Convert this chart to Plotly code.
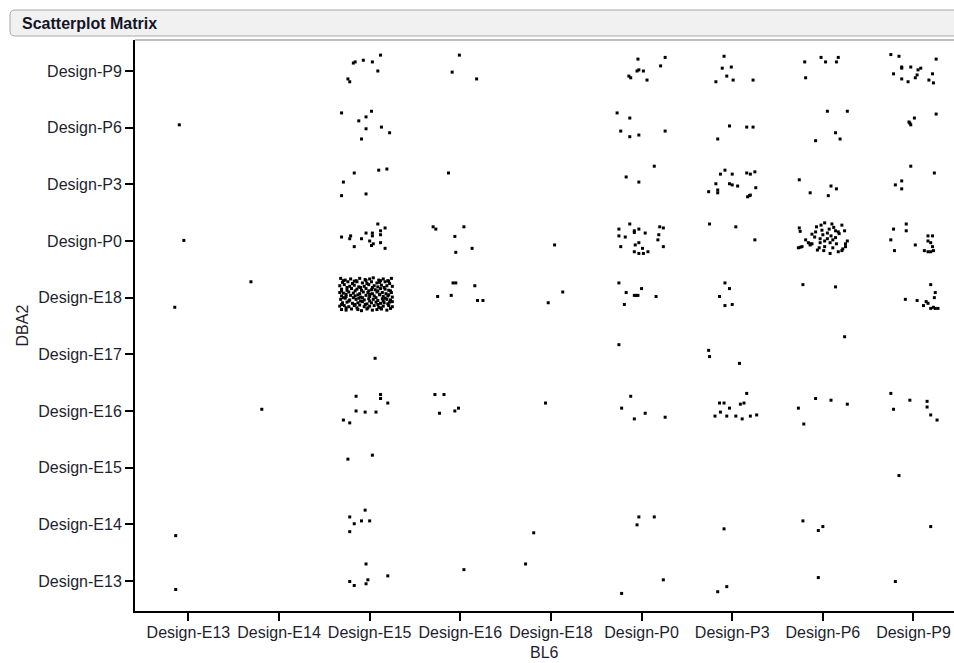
import plotly.graph_objects as go

# ---------------- data ----------------
bl6_categories = ["Design-E13", "Design-E14", "Design-E15", "Design-E16", "Design-E18",
                  "Design-P0", "Design-P3", "Design-P6", "Design-P9"]
dba2_categories = ["Design-E13", "Design-E14", "Design-E15", "Design-E16", "Design-E17",
                   "Design-E18", "Design-P0", "Design-P3", "Design-P6", "Design-P9"]

# each point: (BL6 category, jitter x, jitter y) – jitter in category units
pts_P9 = [
    ("Design-E15", 0.12, 0.28), ("Design-E15", -0.07, 0.19), ("Design-E15", -0.16, 0.16), ("Design-E15", -0.18, 0.14),
    ("Design-E15", 0.03, 0.16), ("Design-E15", 0.09, 0.00), ("Design-E15", -0.24, -0.14), ("Design-E15", -0.22, -0.19),
    ("Design-E16", -0.01, 0.28), ("Design-E16", -0.09, -0.02), ("Design-E16", 0.18, -0.14),
    ("Design-P0", -0.04, 0.21), ("Design-P0", 0.26, 0.24), ("Design-P0", 0.21, 0.09), ("Design-P0", -0.05, 0.00),
    ("Design-P0", -0.03, 0.02), ("Design-P0", 0.02, 0.00), ("Design-P0", -0.14, -0.09), ("Design-P0", -0.12, -0.12),
    ("Design-P0", 0.06, -0.16),
    ("Design-P3", -0.09, 0.26), ("Design-P3", -0.11, 0.05), ("Design-P3", -0.01, 0.07), ("Design-P3", -0.06, -0.09),
    ("Design-P3", -0.18, -0.19), ("Design-P3", 0.01, -0.16), ("Design-P3", 0.23, -0.16),
    ("Design-P6", -0.20, 0.16), ("Design-P6", -0.02, 0.24), ("Design-P6", 0.03, 0.16), ("Design-P6", 0.17, 0.24),
    ("Design-P6", 0.15, 0.16), ("Design-P6", -0.19, -0.12),
    ("Design-P9", -0.25, 0.29), ("Design-P9", -0.16, 0.26), ("Design-P9", 0.25, 0.21), ("Design-P9", -0.13, 0.07),
    ("Design-P9", -0.13, 0.05), ("Design-P9", -0.03, 0.07), ("Design-P9", 0.05, 0.02), ("Design-P9", 0.08, 0.05),
    ("Design-P9", -0.22, -0.05), ("Design-P9", 0.04, -0.07), ("Design-P9", 0.02, -0.12), ("Design-P9", 0.21, -0.05),
    ("Design-P9", -0.13, -0.14), ("Design-P9", -0.06, -0.19), ("Design-P9", 0.17, -0.16), ("Design-P9", 0.22, -0.21),
]
pts_P6 = [
    ("Design-E13", -0.10, 0.05),
    ("Design-E15", -0.31, 0.26), ("Design-E15", 0.02, 0.29), ("Design-E15", -0.12, 0.12), ("Design-E15", -0.04, 0.19),
    ("Design-E15", -0.04, -0.02), ("Design-E15", 0.13, 0.01), ("Design-E15", 0.22, -0.09), ("Design-E15", -0.09, -0.20),
    ("Design-P0", -0.27, 0.26), ("Design-P0", -0.13, 0.17), ("Design-P0", -0.23, -0.06), ("Design-P0", -0.13, -0.16),
    ("Design-P0", -0.03, -0.13), ("Design-P0", 0.26, -0.06),
    ("Design-P3", -0.03, 0.03), ("Design-P3", 0.16, 0.01), ("Design-P3", 0.23, 0.01), ("Design-P3", -0.16, -0.20),
    ("Design-P6", 0.05, 0.29), ("Design-P6", 0.27, 0.29), ("Design-P6", 0.14, -0.09), ("Design-P6", 0.19, -0.20),
    ("Design-P6", -0.08, -0.23),
    ("Design-P9", 0.25, 0.24), ("Design-P9", 0.01, 0.17), ("Design-P9", -0.05, 0.10), ("Design-P9", -0.04, 0.08),
    ("Design-P9", -0.03, 0.05),
]
pts_P3 = [
    ("Design-E15", -0.17, 0.20), ("Design-E15", 0.10, 0.25), ("Design-E15", 0.19, 0.27), ("Design-E15", -0.29, 0.04),
    ("Design-E15", -0.31, -0.20), ("Design-E15", -0.04, -0.17),
    ("Design-E16", -0.13, 0.20),
    ("Design-P0", 0.14, 0.32), ("Design-P0", -0.17, 0.13), ("Design-P0", -0.03, 0.04),
    ("Design-P3", -0.08, 0.25), ("Design-P3", -0.13, 0.18), ("Design-P3", 0.00, 0.18), ("Design-P3", 0.16, 0.20),
    ("Design-P3", 0.20, 0.18), ("Design-P3", 0.25, 0.22), ("Design-P3", -0.18, 0.01), ("Design-P3", -0.03, 0.01),
    ("Design-P3", 0.00, -0.01), ("Design-P3", 0.06, -0.03), ("Design-P3", -0.26, -0.13), ("Design-P3", -0.16, -0.10),
    ("Design-P3", -0.16, -0.15), ("Design-P3", 0.26, -0.06), ("Design-P3", 0.17, -0.22), ("Design-P3", 0.19, -0.20),
    ("Design-P3", 0.20, -0.19),
    ("Design-P6", -0.26, 0.08), ("Design-P6", -0.14, -0.15), ("Design-P6", 0.09, -0.03), ("Design-P6", 0.15, -0.08),
    ("Design-P6", 0.06, -0.20),
    ("Design-P9", -0.03, 0.32), ("Design-P9", 0.23, 0.20), ("Design-P9", -0.13, 0.06), ("Design-P9", -0.20, -0.01),
    ("Design-P9", -0.13, -0.08),
]
pts_P0 = [
    ("Design-E13", -0.05, 0.01),
    ("Design-E15", 0.09, 0.30), ("Design-E15", 0.17, 0.23), ("Design-E15", 0.12, 0.18), ("Design-E15", -0.04, 0.14),
    ("Design-E15", 0.03, 0.14), ("Design-E15", 0.03, 0.09), ("Design-E15", 0.12, 0.11), ("Design-E15", -0.31, 0.07),
    ("Design-E15", -0.21, 0.09), ("Design-E15", -0.22, 0.04), ("Design-E15", -0.09, 0.04), ("Design-E15", 0.00, 0.00),
    ("Design-E15", 0.04, -0.05), ("Design-E15", 0.02, -0.08), ("Design-E15", 0.12, -0.03), ("Design-E15", -0.17, -0.10),
    ("Design-E15", 0.17, -0.13),
    ("Design-E16", -0.30, 0.25), ("Design-E16", -0.27, 0.21), ("Design-E16", 0.04, 0.25), ("Design-E16", -0.06, 0.08),
    ("Design-E16", -0.05, -0.20), ("Design-E16", 0.13, -0.13),
    ("Design-E18", 0.04, -0.07),
    ("Design-P0", -0.13, 0.30), ("Design-P0", -0.25, 0.21), ("Design-P0", -0.08, 0.18), ("Design-P0", -0.08, 0.15),
    ("Design-P0", -0.03, 0.21), ("Design-P0", 0.04, 0.14), ("Design-P0", 0.20, 0.25), ("Design-P0", 0.24, 0.23),
    ("Design-P0", -0.25, 0.09), ("Design-P0", -0.18, 0.07), ("Design-P0", 0.19, 0.11), ("Design-P0", 0.18, 0.02),
    ("Design-P0", -0.03, -0.03), ("Design-P0", -0.07, -0.07), ("Design-P0", 0.01, -0.13), ("Design-P0", -0.23, -0.10),
    ("Design-P0", 0.24, -0.10), ("Design-P0", -0.08, -0.19), ("Design-P0", -0.03, -0.22), ("Design-P0", 0.02, -0.22),
    ("Design-P0", 0.07, -0.19),
    ("Design-P3", -0.25, 0.30), ("Design-P3", 0.04, 0.25), ("Design-P3", 0.25, 0.02),
    ("Design-P6", 0.02, 0.32), ("Design-P6", 0.10, 0.30), ("Design-P6", -0.02, 0.28), ("Design-P6", -0.07, 0.25),
    ("Design-P6", 0.21, 0.28), ("Design-P6", -0.26, 0.23), ("Design-P6", 0.07, 0.21), ("Design-P6", 0.14, 0.18),
    ("Design-P6", 0.17, 0.16), ("Design-P6", 0.24, 0.18), ("Design-P6", -0.25, 0.17), ("Design-P6", 0.18, 0.13),
    ("Design-P6", 0.00, 0.11), ("Design-P6", 0.05, 0.14), ("Design-P6", 0.09, 0.09), ("Design-P6", -0.09, 0.07),
    ("Design-P6", -0.03, 0.04), ("Design-P6", 0.05, 0.04), ("Design-P6", 0.11, 0.02), ("Design-P6", -0.16, -0.03),
    ("Design-P6", -0.14, -0.05), ("Design-P6", -0.12, -0.05), ("Design-P6", -0.03, -0.03), ("Design-P6", 0.02, 0.00),
    ("Design-P6", 0.08, -0.03), ("Design-P6", 0.27, 0.00), ("Design-P6", 0.25, -0.05), ("Design-P6", -0.14, -0.07),
    ("Design-P6", -0.23, -0.10), ("Design-P6", -0.27, -0.12), ("Design-P6", -0.25, -0.11), ("Design-P6", -0.04, -0.12),
    ("Design-P6", 0.02, -0.10), ("Design-P6", 0.11, -0.12), ("Design-P6", 0.25, -0.10), ("Design-P6", 0.22, -0.14),
    ("Design-P6", 0.17, -0.19), ("Design-P6", 0.08, -0.22), ("Design-P6", 0.01, -0.17), ("Design-P6", 0.21, -0.17),
    ("Design-P6", 0.12, 0.24), ("Design-P6", -0.12, 0.12), ("Design-P6", -0.01, 0.19), ("Design-P6", -0.06, -0.16),
    ("Design-P6", 0.15, -0.05), ("Design-P6", -0.19, 0.02), ("Design-P6", -0.08, 0.16), ("Design-P6", 0.14, 0.06),
    ("Design-P9", -0.22, 0.21), ("Design-P9", -0.08, 0.30), ("Design-P9", -0.08, 0.18), ("Design-P9", -0.25, 0.02),
    ("Design-P9", 0.02, -0.07), ("Design-P9", -0.21, -0.17), ("Design-P9", 0.16, 0.09), ("Design-P9", 0.21, 0.09),
    ("Design-P9", 0.16, 0.00), ("Design-P9", 0.19, -0.03), ("Design-P9", 0.12, -0.17), ("Design-P9", 0.16, -0.19),
    ("Design-P9", 0.19, -0.19), ("Design-P9", 0.22, -0.17), ("Design-P9", 0.21, -0.10),
]
pts_E18 = [
    ("Design-E13", -0.15, -0.17),
    ("Design-E14", -0.31, 0.28),
    ("Design-E16", -0.08, 0.26), ("Design-E16", -0.05, 0.26), ("Design-E16", 0.16, 0.21), ("Design-E16", -0.25, 0.02),
    ("Design-E16", -0.10, 0.04), ("Design-E16", 0.19, -0.05), ("Design-E16", 0.25, -0.05),
    ("Design-E18", -0.03, -0.09), ("Design-E18", 0.13, 0.10),
    ("Design-P0", -0.25, 0.26), ("Design-P0", -0.17, 0.09), ("Design-P0", -0.08, 0.04), ("Design-P0", -0.06, 0.04),
    ("Design-P0", -0.04, 0.04), ("Design-P0", 0.00, 0.16), ("Design-P0", 0.16, 0.02), ("Design-P0", -0.19, -0.12),
    ("Design-P3", -0.08, 0.26), ("Design-P3", -0.03, 0.16), ("Design-P3", -0.14, 0.02), ("Design-P3", -0.08, -0.14),
    ("Design-P3", 0.00, -0.12),
    ("Design-P6", -0.22, 0.23), ("Design-P6", 0.14, 0.19),
    ("Design-P9", 0.19, 0.23), ("Design-P9", 0.24, 0.09), ("Design-P9", 0.23, 0.00), ("Design-P9", -0.09, -0.03),
    ("Design-P9", 0.04, -0.05), ("Design-P9", 0.14, -0.07), ("Design-P9", 0.16, -0.10), ("Design-P9", 0.11, -0.14),
    ("Design-P9", 0.19, -0.19), ("Design-P9", 0.22, -0.17), ("Design-P9", 0.24, -0.19), ("Design-P9", 0.27, -0.19),
]
# dense block BL6 = Design-E15, DBA2 = Design-E18 (jitter x, jitter y)
e15_e18_jx = [
    -0.32, -0.27, -0.21, -0.15, -0.11, -0.05, 0.00, 0.04, 0.10, 0.15, 0.20, 0.24,
    -0.30, -0.24, -0.19, -0.14, -0.08, -0.03, 0.02, 0.08, 0.11, 0.17, 0.22,
    -0.33, -0.28, -0.22, -0.17, -0.12, -0.06, -0.01, 0.05, 0.09, 0.13, 0.19, 0.25,
    -0.31, -0.25, -0.20, -0.14, -0.09, -0.04, 0.02, 0.06, 0.12, 0.17, 0.21,
    -0.33, -0.29, -0.23, -0.18, -0.11, -0.07, -0.02, 0.03, 0.08, 0.14, 0.18, 0.24,
    -0.31, -0.26, -0.21, -0.16, -0.10, -0.04, 0.00, 0.05, 0.11, 0.15, 0.20, 0.25,
    -0.32, -0.27, -0.22, -0.15, -0.12, -0.06, -0.01, 0.04, 0.09, 0.14, 0.19, 0.23,
    -0.30, -0.25, -0.19, -0.13, -0.08, -0.03, 0.02, 0.07, 0.12, 0.16, 0.22,
    -0.33, -0.28, -0.23, -0.17, -0.11, -0.06, 0.00, 0.05, 0.10, 0.15, 0.21, 0.25,
    -0.31, -0.26, -0.20, -0.13, -0.09, -0.03, 0.03, 0.08, 0.13, 0.19,
    -0.29, -0.17, -0.04, 0.12, 0.21, -0.25, -0.10, 0.03, 0.16, -0.31, -0.16, -0.01, 0.09, 0.23,
    -0.26, -0.13, 0.00, 0.11, 0.21, -0.29, -0.18, -0.08, 0.07, 0.17, -0.23, -0.10, 0.00, 0.15, 0.25,
    -0.31, -0.16, -0.05, 0.09, 0.20, -0.26, -0.14, -0.02, 0.12, 0.23,
]
e15_e18_jy = [
    0.34, 0.31, 0.33, 0.30, 0.34, 0.32, 0.33, 0.35, 0.31, 0.33, 0.30, 0.34,
    0.27, 0.28, 0.25, 0.28, 0.26, 0.25, 0.28, 0.26, 0.27, 0.28, 0.25,
    0.21, 0.23, 0.20, 0.22, 0.19, 0.20, 0.23, 0.21, 0.19, 0.22, 0.21, 0.20,
    0.15, 0.13, 0.16, 0.15, 0.13, 0.16, 0.14, 0.14, 0.16, 0.15, 0.13,
    0.09, 0.08, 0.10, 0.08, 0.07, 0.10, 0.09, 0.07, 0.10, 0.09, 0.07, 0.09,
    0.03, 0.02, 0.04, 0.03, 0.01, 0.04, 0.02, 0.03, 0.05, 0.02, 0.03, 0.01,
    -0.03, -0.01, -0.04, -0.03, -0.01, -0.04, -0.02, -0.03, -0.05, -0.02, -0.03, -0.04,
    -0.09, -0.08, -0.10, -0.09, -0.07, -0.11, -0.09, -0.08, -0.10, -0.09, -0.08,
    -0.15, -0.14, -0.16, -0.14, -0.13, -0.16, -0.15, -0.14, -0.17, -0.15, -0.14, -0.16,
    -0.21, -0.22, -0.20, -0.21, -0.23, -0.20, -0.22, -0.21, -0.20, -0.22,
    0.30, 0.29, 0.30, 0.30, 0.29, 0.18, 0.18, 0.18, 0.18, 0.12, 0.12, 0.12, 0.12, 0.12,
    0.06, 0.05, 0.06, 0.06, 0.05, 0.00, 0.00, 0.00, 0.00, -0.01, -0.06, -0.06, -0.06, -0.06, -0.07,
    -0.12, -0.12, -0.12, -0.12, -0.11, -0.18, -0.18, -0.18, -0.18, -0.19,
]
pts_E17 = [
    ("Design-E15", 0.06, -0.07),
    ("Design-P0", -0.25, 0.17),
    ("Design-P3", -0.26, 0.07), ("Design-P3", -0.25, -0.04), ("Design-P3", 0.08, -0.16),
    ("Design-P6", 0.24, 0.31),
]
pts_E16 = [
    ("Design-E14", -0.19, 0.03),
    ("Design-E15", -0.15, 0.26), ("Design-E15", 0.12, 0.29), ("Design-E15", 0.12, 0.22), ("Design-E15", 0.20, 0.14),
    ("Design-E15", -0.15, 0.00), ("Design-E15", -0.05, -0.02), ("Design-E15", 0.07, -0.02), ("Design-E15", -0.29, -0.16),
    ("Design-E15", -0.22, -0.21),
    ("Design-E16", -0.28, 0.29), ("Design-E16", -0.18, 0.29), ("Design-E16", -0.23, -0.04), ("Design-E16", -0.06, 0.00),
    ("Design-E16", -0.02, 0.05),
    ("Design-E18", -0.06, 0.14),
    ("Design-P0", -0.12, 0.26), ("Design-P0", -0.22, 0.05), ("Design-P0", -0.08, -0.14), ("Design-P0", 0.04, -0.04),
    ("Design-P0", 0.26, -0.11),
    ("Design-P3", 0.16, 0.31), ("Design-P3", -0.14, 0.14), ("Design-P3", -0.09, 0.14), ("Design-P3", 0.09, 0.12),
    ("Design-P3", 0.13, 0.14), ("Design-P3", -0.03, 0.05), ("Design-P3", -0.13, -0.02), ("Design-P3", -0.19, -0.09),
    ("Design-P3", -0.06, -0.09), ("Design-P3", 0.04, -0.09), ("Design-P3", 0.11, -0.14), ("Design-P3", 0.20, -0.09),
    ("Design-P3", 0.27, -0.07),
    ("Design-P6", -0.08, 0.22), ("Design-P6", 0.09, 0.19), ("Design-P6", 0.27, 0.12), ("Design-P6", -0.27, 0.05),
    ("Design-P6", -0.21, -0.23),
    ("Design-P9", -0.25, 0.31), ("Design-P9", -0.04, 0.19), ("Design-P9", 0.15, 0.17), ("Design-P9", -0.22, 0.03),
    ("Design-P9", 0.15, 0.07), ("Design-P9", 0.19, -0.07), ("Design-P9", 0.26, -0.16),
]
pts_E15 = [
    ("Design-E15", -0.24, 0.15), ("Design-E15", 0.03, 0.22),
    ("Design-P9", -0.16, -0.14),
]
pts_E14 = [
    ("Design-E13", -0.14, -0.20),
    ("Design-E15", -0.05, 0.25), ("Design-E15", -0.22, 0.13), ("Design-E15", -0.09, 0.06), ("Design-E15", 0.00, 0.06),
    ("Design-E15", -0.17, 0.01), ("Design-E15", -0.22, -0.13),
    ("Design-E18", -0.19, -0.15),
    ("Design-P0", -0.03, 0.13), ("Design-P0", 0.14, 0.13), ("Design-P0", -0.05, -0.01),
    ("Design-P3", -0.09, -0.08),
    ("Design-P6", -0.22, 0.06), ("Design-P6", -0.05, -0.11), ("Design-P6", 0.00, -0.04),
    ("Design-P9", 0.19, -0.04),
]
pts_E13 = [
    ("Design-E13", -0.14, -0.15),
    ("Design-E15", -0.04, 0.30), ("Design-E15", -0.22, -0.01), ("Design-E15", -0.17, -0.08), ("Design-E15", -0.04, -0.05),
    ("Design-E15", -0.02, 0.02), ("Design-E15", 0.20, 0.09),
    ("Design-E16", 0.04, 0.20),
    ("Design-E18", -0.28, 0.30),
    ("Design-P0", -0.22, -0.22), ("Design-P0", 0.24, 0.02),
    ("Design-P3", -0.16, -0.19), ("Design-P3", -0.06, -0.10),
    ("Design-P6", -0.05, 0.06),
    ("Design-P9", -0.20, -0.01),
]

rows = {
    "Design-P9": pts_P9, "Design-P6": pts_P6, "Design-P3": pts_P3, "Design-P0": pts_P0,
    "Design-E18": pts_E18, "Design-E17": pts_E17, "Design-E16": pts_E16, "Design-E15": pts_E15,
    "Design-E14": pts_E14, "Design-E13": pts_E13,
}

# ---------------- build points ----------------
xs, ys = [], []
for dba2, plist in rows.items():
    yi = dba2_categories.index(dba2)
    for bl6, jx, jy in plist:
        xs.append(bl6_categories.index(bl6) + jx)
        ys.append(yi + jy)
xi = bl6_categories.index("Design-E15")
yi = dba2_categories.index("Design-E18")
for jx, jy in zip(e15_e18_jx, e15_e18_jy):
    xs.append(xi + jx)
    ys.append(yi + jy)

FONT = "Liberation Sans, Arial, sans-serif"
TXT = "#1e1e2e"

fig = go.Figure()
fig.add_trace(go.Scatter(
    x=xs, y=ys, mode="markers",
    marker=dict(symbol="square", size=3, color="black", line=dict(width=0)),
    hoverinfo="skip", showlegend=False,
))

W, H = 954, 663
L, R, T, B = 135, 0, 40, 52
pw, ph = W - L - R, H - T - B


def px2paper(px, py):
    return (px - L) / pw, (H - B - py) / ph


# title bar (rounded rectangle)
x0, y0 = px2paper(10, 10)
x1, y1 = px2paper(970, 36)
rx, ry = 5 / pw, 5 / ph
bar_path = (f"M {x0 + rx},{y0} L {x1},{y0} L {x1},{y1} L {x0 + rx},{y1} "
            f"Q {x0},{y1} {x0},{y1 + ry} L {x0},{y0 - ry} Q {x0},{y0} {x0 + rx},{y0} Z")

shapes = [
    dict(type="path", xref="paper", yref="paper", path=bar_path,
         fillcolor="#f1f1f1", line=dict(color="#a8a8a8", width=1), layer="above"),
    dict(type="line", xref="paper", yref="paper", x0=0, x1=1.02, y0=1, y1=1,
         line=dict(color="#a8a8a8", width=1.5)),
]

tx, ty = px2paper(20, 23)
bx, by = px2paper(0, 652)
dx_, dy_ = px2paper(22, 0)
annotations = [
    dict(text="<b>Scatterplot Matrix</b>", xref="paper", yref="paper", x=tx, y=ty,
         xanchor="left", yanchor="middle", showarrow=False,
         font=dict(family=FONT, size=16, color="#141428")),
    dict(text="BL6", xref="paper", yref="paper", x=0.5, y=by, xanchor="center", yanchor="middle",
         showarrow=False, font=dict(family=FONT, size=16, color=TXT)),
    dict(text="DBA2", xref="paper", yref="paper", x=dx_, y=0.5, xanchor="center", yanchor="middle",
         textangle=-90, showarrow=False, font=dict(family=FONT, size=16, color=TXT)),
]

fig.update_layout(
    width=W, height=H,
    margin=dict(l=L, r=R, t=T, b=B, pad=0),
    paper_bgcolor="white", plot_bgcolor="white",
    font=dict(family=FONT, size=16, color=TXT),
    shapes=shapes, annotations=annotations,
    xaxis=dict(
        range=[-0.589, 8.447], tickmode="array",
        tickvals=list(range(len(bl6_categories))), ticktext=bl6_categories,
        showgrid=False, zeroline=False, showline=True, linecolor="black", linewidth=2,
        ticks="outside", ticklen=8, tickwidth=1.5, tickcolor="black",
        tickfont=dict(family=FONT, size=16, color=TXT), fixedrange=True,
        ticklabelstandoff=-2,
    ),
    yaxis=dict(
        range=[-0.53, 9.547], tickmode="array",
        tickvals=list(range(len(dba2_categories))), ticktext=dba2_categories,
        showgrid=False, zeroline=False, showline=True, linecolor="black", linewidth=2,
        ticks="outside", ticklen=8, tickwidth=1.5, tickcolor="black",
        tickfont=dict(family=FONT, size=16, color=TXT), fixedrange=True,
    ),
)

fig.write_html("out.html", config={"displayModeBar": False},
               post_script="document.body.style.margin='0';document.body.style.overflow='hidden';")
